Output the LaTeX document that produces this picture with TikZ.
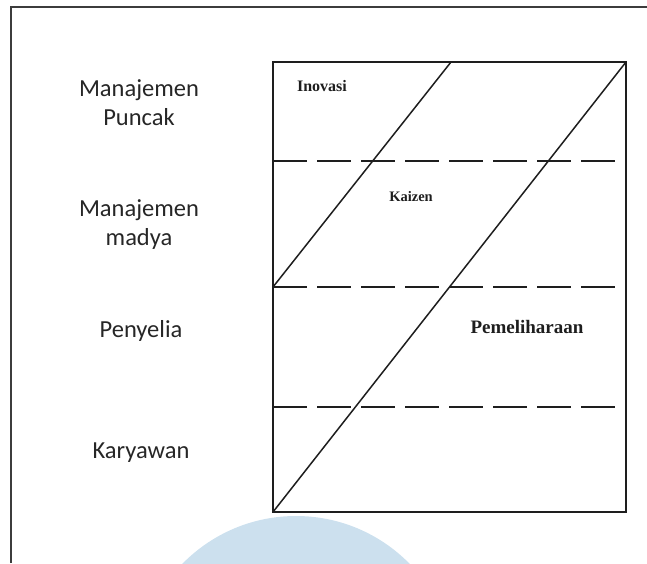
\documentclass[tikz,border=0pt]{standalone}
\usepackage{fontspec}
\setmainfont{Liberation Serif}
\newfontfamily\levelfont{Carlito}
\usetikzlibrary{positioning}
\definecolor{LineGray}{HTML}{1E1E1E}
\definecolor{TextGray}{HTML}{262626}
\definecolor{FrameGray}{HTML}{3C3C3C}
\definecolor{MarkBlue}{HTML}{CCE0EE}

\begin{document}
\begin{tikzpicture}[x=1pt,y=-1pt,
  level/.style={font=\levelfont\fontsize{24.5}{29}\selectfont,text=TextGray,align=center,inner sep=0pt,anchor=base},
  area/.style={font=\bfseries,text=LineGray,inner sep=0pt},
  band/.style={LineGray,line width=1.5pt,dash pattern=on 34pt off 10pt}]
  \useasboundingbox (0,0) rectangle (647,563);
  % light watermark at the bottom
  \begin{scope}
    \clip (0,0) rectangle (647,563);
    \fill[MarkBlue] (296,675) circle[radius=159pt];
  \end{scope}
  % page frame
  \draw[FrameGray,line width=2pt] (11,563) -- (11,7) -- (647,7);

  % levels of management (base = last line)
  \node[level] (top) at (139,125) {Manajemen\\Puncak};
  \node[level] (middle) at (139,245) {Manajemen\\madya};
  \node[level] (supervisor) at (141,337) {Penyelia};
  \node[level] (staff) at (141,458) {Karyawan};

  % box with the three bands
  \coordinate (nw) at (273,62);
  \coordinate (se) at (626,512);
  \coordinate (sw) at (273,512);
  \coordinate (ne) at (626,62);
  \coordinate (mw) at (273,287);
  \coordinate (mn) at (451,62);
  \draw[band] (273,161) -- (619,161);
  \draw[band] (273,287) -- (619,287);
  \draw[band] (273,407) -- (619,407);
  \draw[LineGray,line width=1.6pt] (nw) rectangle (se);
  \draw[LineGray,line width=1.5pt] (mw) -- (mn);
  \draw[LineGray,line width=1.5pt] (sw) -- (ne);

  \node[area,font=\bfseries\fontsize{16}{18}\selectfont] (inovasi) at (322,86) {Inovasi};
  \node[area,font=\bfseries\fontsize{14.5}{16}\selectfont] (kaizen) at (411,197) {Kaizen};
  \node[area,font=\bfseries\fontsize{19}{22}\selectfont] (upkeep) at (527,327) {Pemeliharaan};
\end{tikzpicture}
\end{document}
